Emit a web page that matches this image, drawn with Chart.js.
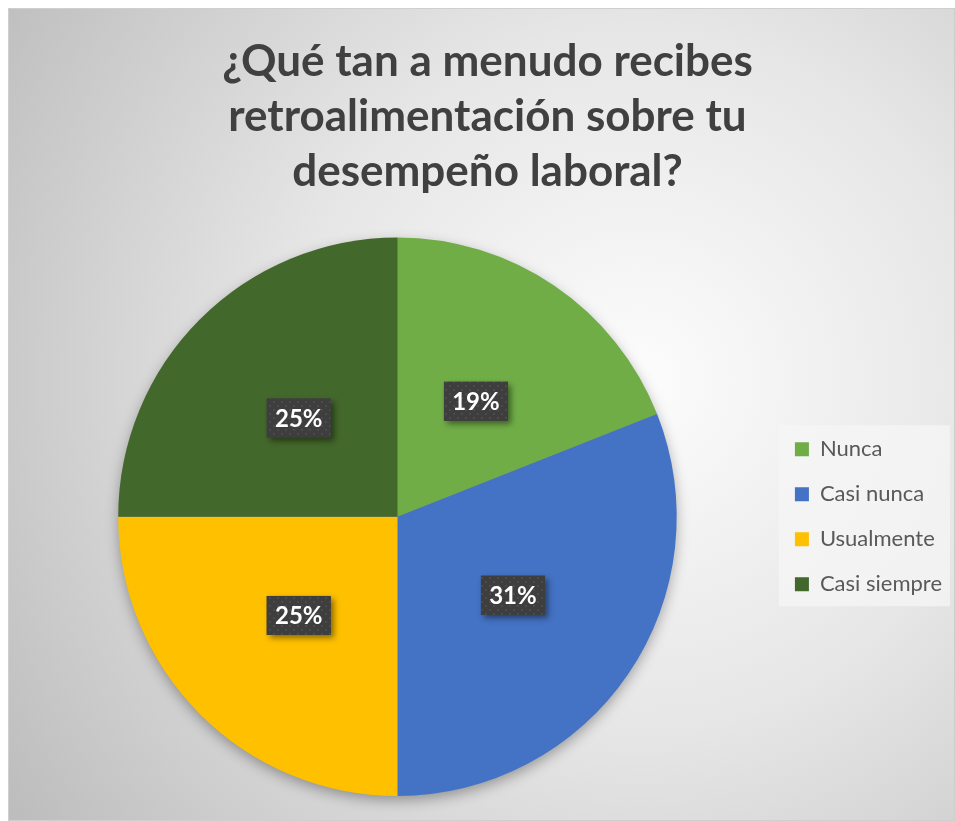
<!DOCTYPE html>
<html>
<head>
<meta charset="utf-8">
<script src="https://cdn.jsdelivr.net/npm/chart.js@4/dist/chart.umd.min.js"></script>
<style>
  html, body { margin: 0; padding: 0; background: #fff; }
  #wrap { width: 955px; height: 821px; }
</style>
</head>
<body>
<div id="wrap"><canvas id="grafica" width="955" height="821"></canvas></div>
<script>
// respuestas de la encuesta (porcentaje)
var categorias = ['Nunca', 'Casi nunca', 'Usualmente', 'Casi siempre'];
var valores = [19, 31, 25, 25];
var colores = ['#70ad47', '#4472c4', '#ffc000', '#43682b'];
var titulo = ['¿Qué tan a menudo recibes', 'retroalimentación sobre tu', 'desempeño laboral?'];

// fondo con degradado radial, margen blanco y caja de la leyenda
var fondo = {
  id: 'fondo',
  beforeDraw: function(chart){
    var ctx = chart.ctx;
    var w = chart.width, h = chart.height;
    ctx.save();
    ctx.fillStyle = '#ffffff';
    ctx.fillRect(0, 0, w, h);
    var g = ctx.createRadialGradient(640, 380, 20, 640, 380, 760);
    g.addColorStop(0, '#fbfbfb');
    g.addColorStop(0.45, '#e6e6e6');
    g.addColorStop(1, '#bdbdbd');
    ctx.fillStyle = g;
    ctx.fillRect(8, 8, w - 8, h - 8);
    ctx.strokeStyle = '#cfcfcf';
    ctx.lineWidth = 1;
    ctx.strokeRect(8.5, 8.5, w - 9, h - 9);

    var cajas = chart.legend && chart.legend.legendHitBoxes;
    if (cajas && cajas.length) {
      var a = cajas[0], b = cajas[cajas.length - 1];
      var x0 = a.left - 16, y0 = a.top - 13, y1 = b.top + b.height + 11;
      ctx.fillStyle = 'rgba(246,246,246,0.75)';
      ctx.fillRect(x0, y0, 950 - x0, y1 - y0);
    }
    ctx.restore();
  },
  beforeDatasetsDraw: function(chart){
    // sombra suave bajo el pastel
    var arco = chart.getDatasetMeta(0).data[0];
    if (!arco) return;
    var ctx = chart.ctx;
    ctx.save();
    ctx.shadowColor = 'rgba(0,0,0,0.35)';
    ctx.shadowBlur = 14;
    ctx.shadowOffsetY = 5;
    ctx.fillStyle = '#888';
    ctx.beginPath();
    ctx.arc(arco.x, arco.y, arco.outerRadius - 1, 0, Math.PI * 2);
    ctx.fill();
    ctx.restore();
  }
};

// trama punteada de las etiquetas
function trama(){
  var c = document.createElement('canvas');
  c.width = 8; c.height = 8;
  var x = c.getContext('2d');
  x.fillStyle = '#3e3e3e';
  x.fillRect(0, 0, 8, 8);
  x.fillStyle = '#4b4b4b';
  x.fillRect(1, 1, 2, 2);
  x.fillRect(5, 5, 2, 2);
  return c;
}

// etiquetas de porcentaje sobre cada sector
var etiquetas = {
  id: 'etiquetas',
  afterDatasetsDraw: function(chart){
    var ctx = chart.ctx;
    var meta = chart.getDatasetMeta(0);
    var datos = chart.data.datasets[0].data;
    var total = datos.reduce(function(s, v){ return s + v; }, 0);
    var patron = ctx.createPattern(trama(), 'repeat');
    meta.data.forEach(function(arco, i){
      var p = arco.tooltipPosition();
      var texto = Math.round(datos[i] / total * 100) + '%';
      var bw = 64, bh = 39;
      ctx.save();
      ctx.shadowColor = 'rgba(0,0,0,0.45)';
      ctx.shadowBlur = 6;
      ctx.shadowOffsetX = 3;
      ctx.shadowOffsetY = 3;
      ctx.fillStyle = '#3e3e3e';
      ctx.fillRect(p.x - bw / 2, p.y - bh / 2, bw, bh);
      ctx.restore();
      ctx.save();
      ctx.fillStyle = patron;
      ctx.fillRect(p.x - bw / 2, p.y - bh / 2, bw, bh);
      ctx.fillStyle = '#ffffff';
      ctx.font = 'bold 24px Lato';
      ctx.textAlign = 'center';
      ctx.textBaseline = 'middle';
      ctx.fillText(texto, p.x, p.y + 1);
      ctx.restore();
    });
  }
};

new Chart(document.getElementById('grafica').getContext('2d'), {
  type: 'pie',
  data: {
    labels: categorias,
    datasets: [{
      data: valores,
      backgroundColor: colores,
      borderWidth: 0
    }]
  },
  options: {
    responsive: false,
    animation: false,
    layout: { padding: { top: 0, left: 23, right: 3, bottom: 25 } },
    plugins: {
      title: {
        display: true,
        text: titulo,
        color: '#404040',
        font: { family: 'Lato', size: 44, weight: 'bold', lineHeight: 1.25 },
        padding: { top: 34, bottom: 38.5 }
      },
      legend: {
        display: true,
        position: 'right',
        align: 'center',
        fullSize: false,
        labels: {
          color: '#595959',
          font: { family: 'Lato', size: 22 },
          boxWidth: 14,
          boxHeight: 14,
          padding: 23
        }
      },
      tooltip: { enabled: false }
    }
  },
  plugins: [fondo, etiquetas]
});
</script>
</body>
</html>
